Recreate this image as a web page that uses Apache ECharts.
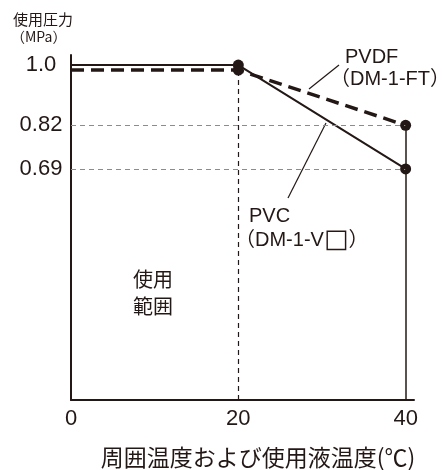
<!DOCTYPE html>
<html>
<head>
<meta charset="utf-8">
<script src="https://cdn.jsdelivr.net/npm/echarts@6/dist/echarts.min.js"></script>
<style>
  html, body { margin: 0; background: #fff; }
  #main { width: 443px; height: 470px; }
</style>
</head>
<body>
<div id="main"></div>
<script>
// 温度 (℃) と使用圧力 (MPa)
var temps = [0, 20, 40];
var pvcPressure = [1.0, 1.0, 0.69];
var pvdfPressure = [0.985, 0.985, 0.82];
var xTicks = [0, 20, 40];
var yTicks = [0.69, 0.82, 1.0];
var refLevels = [0.82, 0.69];

var ink = '#231815';
var latin = '"Liberation Sans", "Noto Sans CJK JP", Arial, sans-serif';
var cjk = '"Noto Sans CJK JP", sans-serif';

// 先頭点 (0℃) にはマーカーなし
function toPoints(vals) {
  return temps.map(function (t, i) {
    return i === 0 ? { value: [t, vals[i]], symbol: 'none' } : [t, vals[i]];
  });
}

var myChart = echarts.init(document.getElementById('main'));

// 補助線
var guideLines = refLevels.map(function (v) {
  return [{ coord: [0, v], lineStyle: { color: '#8c8c8c', type: [5, 4], width: 1.2 } }, { coord: [40, v] }];
});
guideLines.push([{ coord: [20, 0], lineStyle: { color: ink, type: [5, 4], width: 1.2 } }, { coord: [20, pvcPressure[1]] }]);
guideLines.push([{ coord: [40, 0], lineStyle: { color: ink, type: 'solid', width: 1.5 } }, { coord: [40, pvdfPressure[2]] }]);

myChart.setOption({
  animation: false,
  backgroundColor: '#fff',
  grid: { left: 71, right: 29, top: 55, bottom: 70 },
  xAxis: {
    type: 'value',
    min: 0,
    max: 41,
    axisLine: { lineStyle: { color: ink, width: 2 } },
    axisTick: { show: false },
    splitLine: { show: false },
    axisLabel: {
      customValues: xTicks,
      fontSize: 22,
      fontFamily: latin,
      color: ink,
      margin: 8
    }
  },
  yAxis: {
    type: 'value',
    min: 0,
    max: 1.03,
    axisLine: { show: true, lineStyle: { color: ink, width: 2 } },
    axisTick: { show: false },
    splitLine: { show: false },
    axisLabel: {
      customValues: yTicks,
      fontSize: 22,
      fontFamily: latin,
      color: ink,
      align: 'center',
      margin: 30,
      formatter: function (v) { return v === 1 ? '1.0' : String(v); }
    }
  },
  series: [
    {
      type: 'line',
      data: [],
      silent: true,
      markLine: {
        silent: true,
        symbol: 'none',
        label: { show: false },
        data: guideLines
      }
    },
    {
      name: 'PVDF',
      type: 'line',
      data: toPoints(pvdfPressure),
      symbol: 'circle',
      symbolSize: 11,
      lineStyle: { color: ink, width: 3.5, type: [13, 7] },
      itemStyle: { color: ink }
    },
    {
      name: 'PVC',
      type: 'line',
      data: toPoints(pvcPressure),
      symbol: 'circle',
      symbolSize: 11,
      lineStyle: { color: ink, width: 2 },
      itemStyle: { color: ink }
    }
  ],
  graphic: [
    { type: 'text', left: 13, top: 12, style: { text: '使用圧力', font: '15px ' + cjk, fill: ink } },
    { type: 'text', left: 11, top: 30, style: { text: '（MPa）', font: '14px ' + cjk, fill: ink } },
    { type: 'text', x: 153, y: 266, style: { text: '使用\n範囲', font: '20px ' + cjk, fill: ink, align: 'center', lineHeight: 27 } },
    { type: 'text', x: 345, y: 57, style: { text: 'PVDF', font: '20px ' + latin, fill: ink, verticalAlign: 'middle' } },
    { type: 'text', x: 330, y: 79, style: { text: '（DM-1-FT）', font: '20px ' + latin, fill: ink, verticalAlign: 'middle' } },
    { type: 'text', x: 249, y: 216, style: { text: 'PVC', font: '20px ' + latin, fill: ink, verticalAlign: 'middle' } },
    {
      type: 'text', x: 235, y: 240,
      style: {
        text: '{a|（DM-1-V}{b|□}{a|）}',
        verticalAlign: 'middle',
        rich: {
          a: { font: '20px ' + latin, fill: ink, color: ink },
          b: { font: '26px "DejaVu Sans", ' + cjk, fill: ink, color: ink }
        }
      }
    },
    { type: 'line', shape: { x1: 309, y1: 89, x2: 339, y2: 65 }, style: { stroke: ink, lineWidth: 1.2 } },
    { type: 'line', shape: { x1: 326, y1: 123, x2: 288, y2: 198 }, style: { stroke: ink, lineWidth: 1.2 } },
    { type: 'text', x: 258, y: 457, style: { text: '周囲温度および使用液温度(℃)', font: '23px ' + cjk, fill: ink, align: 'center', verticalAlign: 'middle' } }
  ]
});
</script>
</body>
</html>
